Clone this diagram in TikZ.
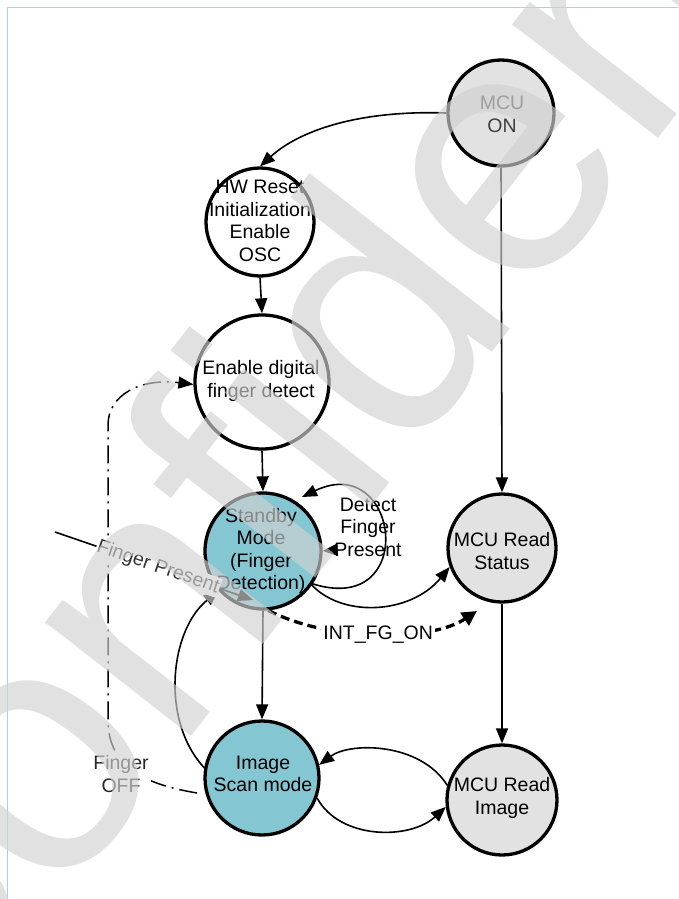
\documentclass[tikz,border=0pt]{standalone}
\usepackage{fontspec}
\setmainfont{Liberation Sans}
\usetikzlibrary{arrows.meta}
\definecolor{stblue}{RGB}{133,198,211}
\definecolor{mcugray}{RGB}{226,226,226}
\definecolor{frameblue}{RGB}{160,215,232}
\tikzset{
  state/.style={circle, draw=black, line width=3.3pt, inner sep=0pt},
  bluestate/.style={state, fill=stblue},
  mcustate/.style={state, fill=mcugray},
  plainstate/.style={state, fill=white},
  txt/.style={align=center, font=\fontsize{19.5}{22.6}\selectfont, inner sep=0pt},
  arr/.style={line width=1.6pt, -{Triangle[length=15pt,width=12pt]}},
  dasharr/.style={line width=3.3pt, dash pattern=on 9pt off 5pt, -{Triangle[length=15pt,width=15pt]}},
  dashdotarr/.style={line width=1.5pt, dash pattern=on 18pt off 6pt on 2pt off 6pt, -{Triangle[length=15pt,width=12pt]}},
  watermark/.style={rotate=52, anchor=base west, text=black!18, opacity=0.65, font=\fontsize{350}{350}\selectfont, inner sep=0pt}
}
\begin{document}
\begin{tikzpicture}[x=1pt,y=1pt]
\useasboundingbox (0,0) rectangle (678,-899);
\fill[white] (0,0) rectangle (678,-899);
\draw[frameblue, line width=1.2pt] (7.5,-899) -- (7.5,-7.5) -- (678,-7.5);

% states
\node[mcustate, minimum size=106pt] (mcuon) at (501,-113) {};
\node[txt, text=black!75] (mcuont) at (502,-114) {MCU\\ON};
\node[plainstate, minimum size=108pt] (hw) at (260,-222) {};
\node[txt] (hwt) at (260,-221) {HW Reset\\Initialization\\Enable\\OSC};
\node[plainstate, minimum size=134pt] (enable) at (262,-382) {};
\node[txt] (enablet) at (261,-381) {Enable digital\\finger detect};
\node[bluestate, minimum size=116pt] (standby) at (263,-551) {};
\node[txt] (standbyt) at (261,-551) {Standby\\Mode\\(Finger\\Detection)};
\node[mcustate, minimum size=108pt] (status) at (502,-548) {};
\node[txt] (statust) at (502,-551) {MCU Read\\Status};
\node[bluestate, minimum size=114pt] (scan) at (262,-778) {};
\node[txt] (scant) at (263,-774) {Image\\Scan mode};
\node[mcustate, minimum size=110pt] (image) at (502,-800) {};
\node[txt] (imaget) at (502,-798) {MCU Read\\Image};

% straight transitions
\draw[arr] (hw.south) -- (enable.north);
\draw[arr] (enable.south) -- (standby.north);
\draw[arr] (standby.south) -- (scan.north);
\draw[arr] (mcuon.south) -- (status.north);
\draw[arr] (status.south) -- (image.north);

% curved transitions
\draw[arr] (mcuon.west) .. controls (360,-110) and (300,-130) .. (hw.north);
\coordinate (loopstart) at (310,-583);
\coordinate (loopend) at (302,-497);
\draw[arr] (loopstart) .. controls (420,-620) and (400,-450) .. (loopend);
\coordinate (dfp) at (334,-550);
\draw[arr] (dfp) -- (standby.east);
\node[txt] (dfpt) at (368,-527) {Detect\\Finger\\Present};
\draw[arr] (loopstart) .. controls (340,-618) and (410,-615) .. (status.200);
\coordinate (intend) at (477,-611);
\draw[dasharr] (standby.-85) .. controls (330,-642) and (430,-642) ..
   node[pos=0.5, txt, fill=white, inner sep=2pt] (intt) {INT\_FG\_ON} (intend);
\draw[arr] (image.165) .. controls (420,-742) and (350,-742) .. (scan.13);
\draw[arr] (scan.-20) .. controls (340,-840) and (410,-840) .. (image.187);
\draw[arr] (scan.170) .. controls (160,-720) and (170,-630) .. (standby.222);

% finger off (dash-dot)
\coordinate (foff) at (197,-793);
\draw[dashdotarr] (foff) .. controls (150,-785) and (108,-770) .. (108,-720)
   -- (108,-425) .. controls (108,-395) and (140,-378) .. (enable.182);
\node[txt, fill=white, inner sep=2pt, text=black!85] (fofft) at (121,-774) {Finger\\OFF};

% finger present
\coordinate (fpa) at (55,-532);
\coordinate (fpb) at (253,-600);
\draw[arr] (fpa) -- node[pos=0.52, sloped, txt, fill=white, inner sep=1pt, text=black!80] (fpt) {Finger Present} (fpb);

% watermark
\begin{scope}
\clip (0,0) rectangle (678,-899);
\node[watermark] (wm) at (-99,-1108) {Confidential};
\end{scope}
\end{tikzpicture}
\end{document}
